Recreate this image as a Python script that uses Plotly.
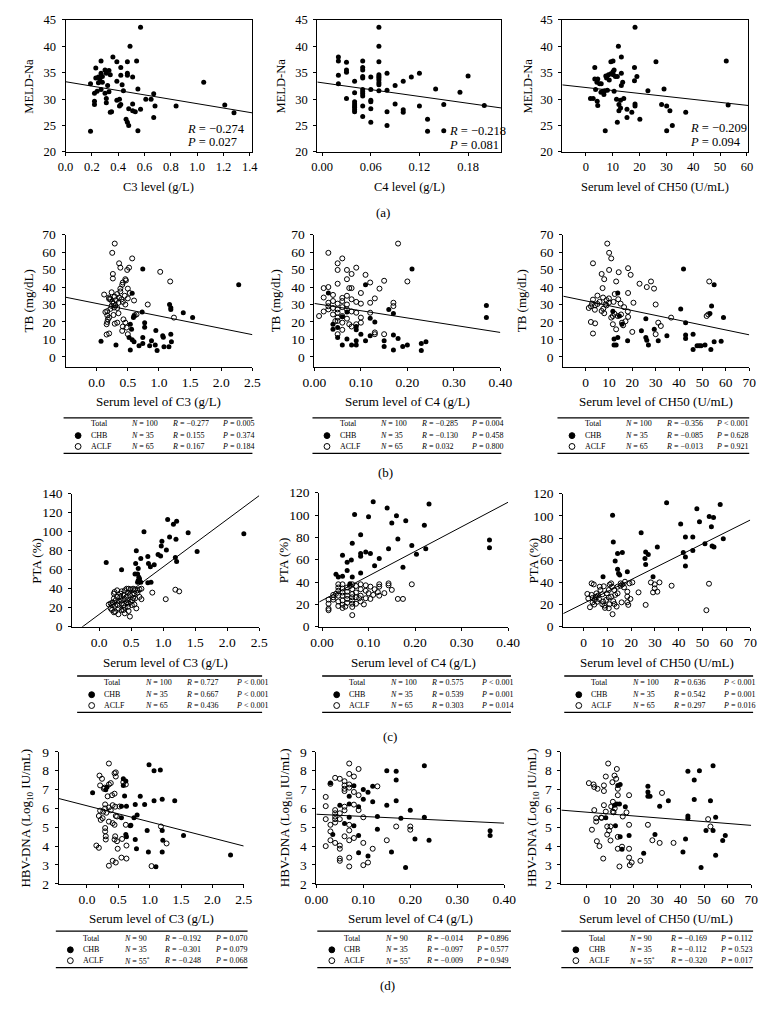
import plotly.graph_objects as go

# The page body has an 8px margin: the figure fills the rest of the 776x1020 window.
OFF = 8
W, H = 776 - 2 * OFF, 1020 - 2 * OFF
SERIF = "Liberation Serif, Times New Roman, serif"

# ---------------- data ----------------
# (a) MELD-Na vs complement levels (ACLF patients)
a_c3 = [0.19,0.57,0.49,0.36,0.27,0.39,0.47,0.54,0.23,0.42,0.30,0.33,0.31,0.34,0.27,0.28,0.25,0.23,0.26,0.42,
        0.47,0.47,0.51,0.25,0.28,0.39,0.43,0.32,0.55,0.44,0.24,0.27,0.30,0.33,0.22,0.22,0.22,0.31,0.31,0.39,
        0.41,0.42,0.41,0.51,0.61,0.65,0.67,0.68,0.35,0.34,0.48,0.51,0.53,0.57,0.46,0.47,0.48,0.67,0.19,0.55,
        0.84,1.05,1.21,1.28]
a_c3_meld = [32.9,43.6,40.0,38.0,37.2,37.1,37.1,37.2,35.9,36.0,35.5,35.4,34.9,34.6,34.9,34.3,34.2,34.0,33.8,34.5,
             34.9,34.5,34.2,33.1,33.2,33.4,32.7,32.6,31.9,31.6,31.5,31.8,31.1,31.4,31.1,29.6,29.0,30.1,29.3,29.8,
             30.0,29.0,28.7,29.1,30.0,30.0,31.0,28.7,27.6,27.5,28.2,27.8,27.6,28.1,26.2,25.6,25.0,26.5,23.9,24.0,
             28.7,33.2,28.9,27.4]
a_c4 = [0.02,0.02,0.02,0.02,0.03,0.03,0.03,0.03,
        0.04,0.04,0.04,0.04,0.04,0.04,0.04,0.04,
        0.05,0.05,0.05,0.05,0.05,0.05,0.05,0.05,0.05,0.05,0.05,
        0.06,0.06,0.06,0.06,0.06,0.06,
        0.07,0.07,0.07,0.07,0.07,0.07,0.07,0.07,0.07,0.07,
        0.08,0.08,0.08,0.08,0.09,0.09,0.10,0.10,0.10,0.11,0.12,0.12,0.13,0.13,0.14,0.15,0.15,0.17,0.18,0.20]
a_c4_meld = [38.0,37.2,34.5,32.9,37.0,35.5,35.1,30.1,
             33.4,31.2,29.5,29.1,28.7,28.4,28.0,27.6,
             37.2,36.0,35.5,34.3,34.0,31.8,31.4,31.0,30.6,28.7,26.7,
             34.2,31.8,29.8,29.5,28.2,25.6,
             43.6,40.0,37.1,34.6,34.3,34.0,33.6,33.1,32.7,31.6,
             34.9,31.7,27.6,25.0,32.6,29.1,33.4,28.0,27.5,34.2,34.9,28.7,26.2,23.9,31.9,29.0,24.0,31.3,34.4,28.8]
a_ch50 = [1.7,2.7,3.3,3.3,3.6,4.2,4.4,4.4,5.1,4.1,5.7,5.6,6.3,7.0,6.7,7.2,7.4,7.7,8.0,8.4,
          8.7,9.3,9.3,10.1,10.1,10.2,10.5,10.5,11.0,11.7,11.4,11.7,12.1,12.3,12.3,12.9,12.9,13.2,13.2,13.2,
          13.7,14.1,15.3,15.3,17.1,18.1,18.1,18.3,18.3,18.3,19.0,20.1,23.1,26.1,28.2,29.1,30.1,31.3,30.1,32.2,
          37.2,52.3,53.0]
a_ch50_meld = [30.1,30.1,33.8,36.0,31.8,29.6,28.8,33.8,32.9,33.2,32.9,31.3,31.5,31.6,30.9,24.0,34.4,34.0,31.7,34.6,
               33.6,37.1,34.8,37.2,35.2,34.6,35.5,31.5,34.3,34.3,30.0,25.6,40.0,29.0,27.8,29.8,28.3,38.0,34.9,32.6,
               33.2,30.1,28.1,26.5,27.5,36.0,33.5,29.1,28.7,43.6,34.3,26.2,31.6,37.1,29.0,31.9,28.7,27.8,24.0,25.0,
               27.5,37.2,28.9]

# (b) TB (mg/dL): (x, y) pairs, CHB = filled, ACLF = open
b_c3_chb = [(0.74,50.4),(0.57,36.4),(2.28,41.3),(0.07,8.9),(0.31,6.8),(0.54,18.7),(0.56,15.8),(0.59,22.5),(0.60,23.4),
            (0.73,25.7),(0.77,19.6),(0.77,17.0),(0.52,11.1),(0.57,9.8),(0.60,8.7),(0.54,4.0),(0.74,11.1),(0.74,7.7),
            (0.68,6.4),(0.88,9.2),(0.85,6.4),(0.95,15.1),(0.94,6.8),(0.97,3.6),(1.06,12.1),(1.07,11.3),(1.08,5.8),
            (1.17,30.0),(1.19,28.1),(1.19,27.2),(1.19,13.0),(1.20,8.7),(1.16,5.8),(1.39,25.3),(1.54,22.5)]
b_c3_aclf = [(0.29,64.9),(0.25,59.6),(0.26,47.5),(0.26,44.9),(0.36,53.6),(0.38,51.1),(0.49,49.8),(0.52,51.1),(0.57,56.4),
             (0.46,44.5),(0.42,42.6),(0.41,41.3),(0.38,39.1),(0.47,43.8),(0.50,39.1),(0.53,36.6),(0.12,35.7),(1.02,48.7),
             (1.18,43.2),(0.60,32.3),(0.20,34.0),(0.22,33.0),(0.29,34.5),(0.31,32.5),(0.25,31.5),(0.20,33.2),(0.33,36.0),
             (0.36,34.0),(0.40,33.0),(0.45,35.0),(0.27,30.5),(0.30,29.5),(0.35,31.0),(0.42,31.5),(0.50,33.5),(0.24,37.0),
             (0.38,37.5),(0.46,30.0),(0.14,25.7),(0.17,26.2),(0.17,23.8),(0.20,22.5),(0.18,21.5),(0.17,20.0),(0.16,18.7),
             (0.20,13.4),(0.16,12.8),(0.22,27.5),(0.28,28.3),(0.24,29.2),(0.33,28.0),(0.29,19.0),(0.33,19.6),(0.43,21.5),
             (0.46,19.6),(0.42,17.4),(0.41,14.9),(0.48,16.8),(0.50,13.0),(0.61,23.8),(0.64,24.3),(0.82,30.0),(1.24,22.5),
             (0.35,25.0),(0.27,24.0)]
b_c4_chb = [(0.03,36.6),(0.11,41.3),(0.21,50.4),(0.04,15.8),(0.04,18.7),(0.05,16.8),(0.05,11.1),(0.06,23.0),(0.06,6.8),
            (0.07,10.2),(0.07,25.7),(0.08,6.8),(0.09,17.4),(0.09,15.5),(0.09,9.2),(0.09,6.8),(0.10,13.0),(0.11,9.2),
            (0.12,22.1),(0.12,12.1),(0.13,20.0),(0.15,9.2),(0.15,6.0),(0.16,27.2),(0.17,24.9),(0.17,12.5),(0.17,4.0),
            (0.18,10.6),(0.19,6.0),(0.20,6.8),(0.23,7.7),(0.23,3.6),(0.24,8.7),(0.37,29.4),(0.37,22.5)]
b_c4_aclf = [(0.03,59.6),(0.05,53.6),(0.05,49.8),(0.06,56.4),(0.07,49.8),(0.07,44.5),(0.08,47.5),(0.09,51.1),(0.05,41.9),
             (0.02,39.4),(0.03,40.0),(0.075,39.4),(0.08,39.4),(0.10,36.6),(0.11,47.0),(0.12,42.6),(0.14,39.1),(0.15,43.6),
             (0.18,64.9),(0.20,43.2),(0.02,34.0),(0.04,35.5),(0.04,32.0),(0.06,33.8),(0.03,31.0),(0.05,30.5),(0.06,32.0),
             (0.07,30.0),(0.08,33.0),(0.09,31.5),(0.12,31.0),(0.17,31.0),(0.13,33.5),(0.10,30.5),(0.01,23.4),(0.03,29.0),
             (0.03,27.2),(0.04,24.3),(0.045,20.5),(0.05,27.2),(0.05,25.3),(0.05,22.5),(0.05,20.6),(0.05,13.0),(0.06,23.4),
             (0.06,19.6),(0.06,15.5),(0.07,27.2),(0.07,21.9),(0.075,18.7),(0.08,17.4),(0.09,25.3),(0.09,18.7),(0.10,22.5),
             (0.10,19.6),(0.12,25.3),(0.13,14.0),(0.13,13.0),(0.15,13.0),(0.17,29.1),(0.04,28.0),(0.06,28.5),(0.08,26.0),
             (0.02,26.0),(0.07,35.0)]
b_ch50_chb = [(41.9,50.4),(13.8,36.6),(55.0,41.3),(12.2,10.2),(12.2,6.8),(13.1,6.8),(13.8,11.1),(18.0,9.2),(14.5,23.4),
              (15.6,18.7),(11.7,26.2),(23.9,14.9),(25.8,21.9),(25.8,11.1),(26.2,9.6),(26.9,6.8),(29.4,15.8),(31.1,9.2),
              (34.8,12.1),(40.7,27.5),(42.8,19.6),(42.8,12.5),(42.8,10.6),(46.0,13.0),(46.0,4.2),(47.7,6.4),(48.6,6.4),
              (49.4,6.4),(51.1,6.8),(53.9,29.1),(53.6,4.2),(55.0,8.7),(58.0,8.9),(59.0,22.5),(53.2,24.9)]
b_ch50_aclf = [(3.2,53.6),(6.9,47.5),(8.0,44.5),(9.3,64.9),(10.1,59.6),(11.0,56.4),(10.1,49.8),(13.1,43.2),(14.2,48.5),
               (7.3,39.4),(18.2,50.8),(19.3,47.0),(23.1,41.9),(26.2,40.0),(28.0,43.2),(29.3,39.1),(52.9,43.2),(18.2,36.6),
               (3.2,32.8),(5.1,35.1),(7.5,34.0),(10.0,33.5),(9.0,32.5),(12.5,36.0),(14.0,33.0),(1.4,28.0),(2.3,29.0),
               (2.8,30.5),(4.1,29.5),(5.1,30.3),(2.3,20.0),(4.1,19.2),(3.2,13.4),(6.9,26.3),(7.6,27.6),(9.0,29.5),
               (10.0,31.0),(11.0,22.5),(11.7,23.4),(12.4,24.7),(11.7,18.7),(13.1,15.8),(13.8,23.4),(15.2,24.3),(15.6,19.6),
               (16.1,18.1),(17.1,20.4),(18.1,26.0),(18.2,22.9),(20.0,14.3),(30.0,13.0),(31.1,19.6),(32.2,17.7),(30.0,30.0),
               (36.6,22.5),(51.8,23.4),(52.5,24.3),(6.0,31.5),(8.5,30.0),(12.0,31.5),(15.0,30.5),(4.0,27.0),(16.5,28.5),
               (20.5,31.0),(8.0,25.0)]

# (c) PTA (%)
c_c3_chb = [(1.07,113),(1.16,108),(1.21,111),(0.70,100),(1.39,99),(2.26,98),(0.58,80),(0.98,90),(1.10,94.5),(1.20,92),
            (0.97,85),(0.92,76),(0.96,74.5),(1.05,80.7),(1.19,72.8),(1.21,68.6),(1.53,79.3),(0.11,67.6),(0.35,60),
            (0.57,66.6),(0.61,61.4),(0.65,71.7),(0.76,73.8),(0.77,66.6),(0.80,63.1),(0.86,65.2),(0.56,55.5),(0.60,55.5),
            (0.62,52),(0.63,50.3),(0.61,48.6),(0.65,46.9),(0.60,46.9),(0.76,46.2),(0.81,46.9)]
c_c3_aclf = [(0.18,24.5),(0.21,25.5),(0.24,36.6),(0.28,38.3),(0.29,22.8),(0.33,31.4),(0.35,27.9),(0.38,22.8),(0.40,38.3),
             (0.43,40.0),(0.46,40.0),(0.49,39.3),(0.53,40.0),(0.56,39.3),(0.60,38.3),(0.63,39.3),(0.66,40.0),(0.20,17.6),
             (0.25,15.9),(0.30,19.3),(0.35,17.6),(0.40,20.0),(0.45,21.0),(0.51,22.8),(0.55,23.4),(0.58,19.3),(0.23,29.7),
             (0.26,27.9),(0.33,34.8),(0.38,33.1),(0.43,31.4),(0.48,33.1),(0.53,30.3),(0.49,26.2),(0.43,25.5),(0.38,17.6),
             (0.30,13.1),(0.25,22.1),(0.20,22.8),(0.15,23.4),(0.46,16.6),(0.52,27.9),(0.56,29.7),(0.35,24.5),(0.28,31.4),
             (0.31,26.9),(0.40,29.0),(0.45,35.9),(0.35,37.2),(0.55,34.8),(0.48,10.7),(0.83,35.9),(1.04,29.0),(1.19,39.0),
             (1.25,37.2),(0.63,31.4),(0.66,29.0),(0.18,19.3),(0.23,15.2),(0.40,14.1),(0.52,33.8),(0.44,27.9),(0.23,34.8),
             (0.46,24.5),(0.60,36.0)]
c_c4_chb = [(0.07,100.6),(0.10,98.6),(0.11,112),(0.14,106.3),(0.16,99.4),(0.15,92.9),(0.18,94.9),(0.22,90.9),(0.23,110),
            (0.03,47),(0.035,44.6),(0.044,64),(0.054,57.7),(0.054,50.4),(0.044,45.2),(0.065,74.8),(0.063,59.7),(0.065,44.6),
            (0.083,82.3),(0.083,63.2),(0.083,65.5),(0.083,48.1),(0.094,67),(0.104,65.5),(0.113,54.5),(0.123,61.2),
            (0.143,69.9),(0.163,78.6),(0.174,53.3),(0.193,72.8),(0.203,64.9),(0.223,69.9),(0.36,77.7),(0.36,70.7),(0.06,38.5)]
c_c4_aclf = [(0.014,24.3),(0.014,20.6),(0.014,16.2),(0.014,14.8),(0.024,26.4),(0.024,24.3),(0.035,38),(0.035,35.1),
             (0.035,32.2),(0.035,27.8),(0.035,22.6),(0.035,18.6),(0.044,38),(0.044,34.2),(0.044,30.7),(0.044,27.8),
             (0.044,23.5),(0.044,19.7),(0.044,16.8),(0.054,35.1),(0.054,31.3),(0.054,27.8),(0.054,24.9),(0.054,21.4),
             (0.065,38),(0.065,33.6),(0.065,29.3),(0.065,26.4),(0.065,23.5),(0.065,20.6),(0.065,17.7),(0.065,10.4),
             (0.073,36.5),(0.073,30.7),(0.073,26.4),(0.073,20.6),(0.083,38),(0.083,33.6),(0.083,27.8),(0.083,22.6),
             (0.094,37.1),(0.094,32.2),(0.094,25.5),(0.104,35.9),(0.104,24.9),(0.113,33.6),(0.123,35.9),(0.123,38),
             (0.123,27.8),(0.134,30.1),(0.143,38.8),(0.143,37.1),(0.163,24.9),(0.174,24.9),(0.193,38),(0.024,28.5),
             (0.03,29.5),(0.12,31.0),(0.11,28.5),(0.06,36.5),(0.09,20.0),(0.05,18.0),(0.08,25.5),(0.10,30.0),(0.15,33.0)]
c_ch50_chb = [(12.2,100.6),(34.9,111.8),(47.6,106.5),(48.7,94.7),(52.8,99.4),(54.6,98.5),(40.8,92.6),(53.7,90.3),
              (57.4,110.3),(12.5,76.4),(14.3,66.0),(16.3,66.9),(13.3,59.4),(14.3,51.9),(14.7,48.1),(15.2,46.6),
              (18.4,49.6),(8.2,45.1),(24.2,84.8),(26.1,67.5),(27.2,65.1),(26.1,56.1),(25.8,61.5),(29.2,45.1),(31.0,71.9),
              (41.9,66.9),(42.8,80.9),(42.8,63.0),(42.8,54.9),(45.9,80.9),(45.9,68.7),(51.0,74.9),(54.0,72.8),(54.8,71.9),
              (58.7,79.4)]
c_ch50_aclf = [(1.6,29.6),(2.7,17.6),(3.4,39.1),(4.3,38.2),(3.8,22.0),(4.7,24.5),(3.8,26.0),(5.2,27.0),(5.7,22.5),
               (6.1,28.1),(6.8,36.1),(7.9,20.3),(8.2,22.7),(7.9,29.3),(8.8,19.1),(9.5,24.2),(10.6,26.3),(10.9,20.3),
               (10.6,16.7),(11.6,39.1),(12.0,36.1),(12.2,11.3),(12.9,33.1),(13.3,28.7),(13.9,18.2),(14.3,30.1),(15.6,39.1),
               (15.6,37.0),(16.3,38.2),(17.4,40.6),(18.4,31.6),(18.4,27.2),(18.4,22.1),(18.8,19.7),(19.3,39.1),(19.7,25.1),
               (23.1,31.0),(26.1,19.7),(28.3,40.0),(29.9,38.2),(29.9,34.6),(29.2,31.0),(31.9,40.0),(31.0,31.6),(37.0,37.0),
               (52.7,38.8),(51.6,14.9),(11.6,27.2),(9.8,30.1),(7.1,33.1),(5.4,30.1),(3.4,28.7),(10.6,33.1),(14.3,36.1),
               (2.0,25.5),(6.5,25.0),(9.0,17.0),(12.5,23.0),(16.0,22.0),(20.5,40.0),(13.0,20.5),(4.5,20.0),(11.0,38.0),
               (8.5,36.5),(17.0,35.5)]

# (d) HBV-DNA (log10 IU/mL)
d_c3_chb = [(0.09,6.83),(0.32,7.13),(0.99,8.31),(1.07,8.0),(1.17,8.03),(0.60,6.66),(0.85,6.64),(0.55,6.12),(0.63,6.12),
            (0.77,6.21),(0.92,6.21),(1.07,6.40),(1.20,6.49),(1.40,6.40),(0.55,5.51),(0.75,5.51),(0.80,5.65),(0.69,5.08),
            (0.62,4.61),(0.63,4.49),(0.96,4.83),(1.20,4.83),(1.54,4.56),(1.21,4.31),(0.77,4.35),(0.79,3.86),(0.98,3.69),
            (1.20,3.69),(1.10,2.90),(2.29,3.53),(0.58,7.57),(0.58,7.22),(0.30,6.99),(0.62,7.45),(0.70,5.10)]
d_c3_aclf = [(0.35,8.38),(0.44,7.86),(0.46,7.69),(0.20,7.74),(0.24,7.57),(0.21,7.22),(0.27,7.04),(0.35,7.27),(0.38,7.34),
             (0.44,6.78),(0.40,6.70),(0.33,6.64),(0.29,6.21),(0.41,6.17),(0.45,6.09),(0.35,6.05),(0.29,6.0),(0.21,5.88),
             (0.26,5.83),(0.19,5.6),(0.25,5.48),(0.22,5.39),(0.31,5.77),(0.35,5.3),(0.29,4.96),(0.29,4.78),(0.30,4.52),
             (0.30,4.35),(0.15,4.03),(0.19,3.91),(0.41,5.22),(0.46,5.6),(0.44,5.13),(0.45,4.52),(0.44,4.35),(0.49,3.86),
             (0.48,4.26),(0.56,4.38),(0.48,5.57),(0.62,5.13),(0.63,4.03),(0.55,3.39),(0.63,3.34),(0.41,3.22),(0.46,3.13),
             (0.35,2.96),(1.03,2.94),(1.18,5.04),(1.27,4.14),(0.58,7.39),(0.62,7.27),(0.46,7.91),(0.28,7.1),(0.52,6.1),
             (0.38,5.9)]
d_c4_chb = [(0.035,4.61),(0.03,7.34),(0.05,6.17),(0.07,6.64),(0.07,6.23),(0.07,5.53),(0.09,6.09),(0.09,4.56),(0.09,3.65),
            (0.08,5.08),(0.10,6.49),(0.11,6.85),(0.12,7.17),(0.12,6.35),(0.11,3.48),(0.13,5.57),(0.15,8.0),(0.15,6.17),
            (0.16,3.69),(0.17,7.97),(0.17,7.51),(0.17,6.40),(0.18,5.48),(0.19,2.87),(0.21,4.38),(0.23,8.26),(0.23,5.53),
            (0.24,4.31),(0.37,4.82),(0.37,4.56),(0.06,5.2),(0.10,7.0),(0.13,4.9),(0.08,7.2),(0.20,5.9)]
d_c4_aclf = [(0.02,6.61),(0.02,6.12),(0.02,5.43),(0.02,4.0),(0.03,7.3),(0.03,5.13),(0.03,4.78),(0.03,4.31),(0.04,7.62),
             (0.04,5.91),(0.04,5.74),(0.04,5.57),(0.04,5.43),(0.04,5.25),(0.04,4.17),(0.05,7.57),(0.05,5.74),(0.05,5.43),
             (0.05,3.86),(0.05,4.03),(0.05,3.34),(0.05,3.22),(0.06,7.44),(0.06,7.22),(0.06,7.04),(0.06,6.92),(0.06,6.09),
             (0.06,4.52),(0.07,8.38),(0.07,7.83),(0.07,7.27),(0.07,7.1),(0.07,5.13),(0.07,4.83),(0.07,4.31),(0.07,3.39),
             (0.07,2.92),(0.08,7.69),(0.08,6.87),(0.08,4.43),(0.09,8.09),(0.09,6.7),(0.09,5.91),(0.10,5.53),(0.10,4.17),
             (0.10,2.99),(0.11,3.13),(0.12,3.86),(0.13,7.17),(0.15,4.31),(0.17,5.04),(0.20,5.04),(0.20,4.87),(0.06,5.9),
             (0.08,6.2)]
d_ch50_chb = [(8.2,5.51),(12.3,5.08),(12.9,6.23),(14.0,6.23),(11.9,6.17),(13.3,7.22),(14.3,7.27),(14.3,4.49),(15.1,3.83),
              (16.5,6.09),(18.1,4.56),(24.3,3.62),(26.1,7.17),(26.1,6.87),(26.1,6.64),(27.0,6.64),(29.1,4.61),(31.1,6.12),
              (34.8,6.40),(41.0,3.69),(42.1,4.38),(43.1,7.97),(43.1,5.6),(43.1,5.48),(45.8,7.51),(45.8,6.47),(48.0,8.0),
              (48.7,2.87),(50.8,4.83),(52.7,6.40),(53.8,8.26),(53.8,4.83),(54.9,5.53),(54.9,3.51),(57.9,4.30),(59.0,4.56)]
d_ch50_aclf = [(1.0,7.34),(2.3,4.87),(3.0,7.27),(3.3,7.13),(4.7,7.04),(3.3,5.91),(4.1,5.48),(4.1,5.3),(4.4,4.26),(5.5,4.0),
               (6.2,5.51),(7.1,3.34),(7.4,7.22),(7.4,6.92),(7.4,6.17),(8.2,7.69),(8.2,5.83),(8.8,4.61),(9.6,4.82),
               (10.2,5.04),(10.2,4.3),(9.2,8.38),(11.0,7.39),(11.2,6.35),(11.2,5.83),(11.9,7.74),(12.6,7.57),(12.9,8.09),
               (13.3,6.7),(13.3,7.04),(11.5,5.79),(13.3,3.86),(13.3,4.49),(14.0,2.92),(15.4,5.57),(15.1,3.97),(17.0,5.79),
               (18.1,6.7),(18.1,5.13),(18.1,3.86),(18.1,3.39),(18.4,2.99),(19.2,3.13),(22.9,3.22),(26.1,5.13),(28.0,4.31),
               (31.1,4.17),(32.1,6.82),(37.0,4.17),(51.7,5.43),(52.7,5.04),(8.8,5.04),(10.5,6.1),(12.0,6.0),(6.5,5.5)]

# regression lines (intercept, slope)
fit_a = [(33.3, -4.16), (33.1, -21.6), (32.2, -0.0563)]
fit_b = [(30.6, -7.15), (30.6, -41.5), (32.1, -0.278)]
fit_c = [(13.0, 50.0), (23.5, 220.0), (21.0, 1.075)]
fit_d = [(6.14, -0.854), (5.69, -1.18), (5.80, -0.010)]

# correlation text for (a)
a_R = ["−0.274", "−0.218", "−0.209"]
a_P = ["0.027", "0.081", "0.094"]

# tables for (b)-(d)
group_labels = ["Total", "CHB", "ACLF"]
N_bc = ["100", "35", "65"]
N_d = ["90", "35", "55<sup>*</sup>"]
b_R = [["−0.277", "0.155", "0.167"], ["−0.285", "−0.130", "0.032"], ["−0.356", "−0.085", "−0.013"]]
b_P = [["= 0.005", "= 0.374", "= 0.184"], ["= 0.004", "= 0.458", "= 0.800"], ["< 0.001", "= 0.628", "= 0.921"]]
c_R = [["0.727", "0.667", "0.436"], ["0.575", "0.539", "0.303"], ["0.636", "0.542", "0.297"]]
c_P = [["< 0.001", "< 0.001", "< 0.001"], ["< 0.001", "= 0.001", "= 0.014"], ["< 0.001", "= 0.001", "= 0.016"]]
d_R = [["−0.192", "−0.301", "−0.248"], ["−0.014", "−0.097", "−0.009"], ["−0.169", "−0.112", "−0.320"]]
d_P = [["= 0.070", "= 0.079", "= 0.068"], ["= 0.896", "= 0.577", "= 0.949"], ["= 0.112", "= 0.523", "= 0.017"]]

# tick values
ticks_a_c3 = [0.0, 0.2, 0.4, 0.6, 0.8, 1.0, 1.2, 1.4]
ticks_a_c4 = [0.0, 0.06, 0.12, 0.18]
ticks_a_ch = [0, 10, 20, 30, 40, 50, 60]
ticks_c3 = [0.0, 0.5, 1.0, 1.5, 2.0, 2.5]
ticks_c4 = [0.0, 0.1, 0.2, 0.3, 0.4]
ticks_ch = [0, 10, 20, 30, 40, 50, 60, 70]

# ---------------- layout helpers ----------------
def fx(px):
    return (px - OFF) / W

def fy(py):
    return 1 - (py - OFF) / H

def xt(vals, fmt):
    return dict(tickmode="array", tickvals=vals, ticktext=[format(v, fmt) for v in vals])

def yt(t0, dt):
    return dict(tickmode="linear", tick0=t0, dtick=dt)

panels = [
    # row (a)
    dict(box=(55, 248, 13, 147), xr=[0, 1.42], yr=[20, 45], xt=xt(ticks_a_c3, ".1f"), yt=yt(20, 5),
         boxed=True, pts=(a_c3, a_c3_meld), fit=fit_a[0],
         xtitle="C3 level (g/L)", ytitle="MELD-Na", ytx=17, xty=183, R=a_R[0], P=a_P[0], rp=(178, 124, 137)),
    dict(box=(315, 505, 13, 147), xr=[-0.006, 0.221], yr=[20, 45], xt=xt(ticks_a_c4, ".2f"), yt=yt(20, 5),
         boxed=True, pts=(a_c4, a_c4_meld), fit=fit_a[1],
         xtitle="C4 level (g/L)", ytitle="MELD-Na", ytx=277, xty=183, R=a_R[1], P=a_P[1], rp=(449, 126, 140)),
    dict(box=(568, 760, 13, 147), xr=[-8.8, 60.5], yr=[20, 45], xt=xt(ticks_a_ch, "d"), yt=yt(20, 5),
         boxed=True, pts=(a_ch50, a_ch50_meld), fit=fit_a[2],
         xtitle="Serum level of CH50 (U/mL)", ytitle="MELD-Na", ytx=532, xty=183, R=a_R[2], P=a_P[2], rp=(698, 123, 137)),
    # row (b)
    dict(box=(55, 248, 231, 365), xr=[-0.5, 2.5], yr=[-5.6, 70], xt=xt(ticks_c3, ".1f"), yt=yt(0, 10),
         chb=b_c3_chb, aclf=b_c3_aclf, fit=fit_b[0], xtitle="Serum level of C3 (g/L)", ytitle="TB (mg/dL)",
         ytx=17, xty=400, table=(53, 248), trow=(417, 423, 435, 446, 453), N=N_bc, R=b_R[0], P=b_P[0]),
    dict(box=(312, 504, 231, 365), xr=[0, 0.40], yr=[-5.6, 70], xt=xt(ticks_c4, ".2f"), yt=yt(0, 10),
         chb=b_c4_chb, aclf=b_c4_aclf, fit=fit_b[1], xtitle="Serum level of C4 (g/L)", ytitle="TB (mg/dL)",
         ytx=272, xty=400, table=(310, 505), trow=(417, 423, 435, 446, 453), N=N_bc, R=b_R[1], P=b_P[1]),
    dict(box=(569, 761, 231, 365), xr=[-9.5, 70], yr=[-5.6, 70], xt=xt(ticks_ch, "d"), yt=yt(0, 10),
         chb=b_ch50_chb, aclf=b_ch50_aclf, fit=fit_b[2], xtitle="Serum level of CH50 (U/mL)", ytitle="TB (mg/dL)",
         ytx=526, xty=400, table=(563, 761), trow=(417, 423, 435, 446, 453), N=N_bc, R=b_R[2], P=b_P[2]),
    # row (c)
    dict(box=(62, 255, 494, 629), xr=[-0.42, 2.5], yr=[0, 140], xt=xt(ticks_c3, ".1f"), yt=yt(0, 20),
         chb=c_c3_chb, aclf=c_c3_aclf, fit=fit_c[0], xtitle="Serum level of C3 (g/L)", ytitle="PTA (%)",
         ytx=25, xty=665, table=(67, 258), trow=(679, 686, 698, 709, 716), N=N_bc, R=c_R[0], P=c_P[0]),
    dict(box=(317, 512, 493, 629), xr=[-0.006, 0.40], yr=[0, 120], xt=xt(ticks_c4, ".2f"), yt=yt(0, 20),
         chb=c_c4_chb, aclf=c_c4_aclf, fit=fit_c[1], xtitle="Serum level of C4 (g/L)", ytitle="PTA (%)",
         ytx=280, xty=665, table=(320, 515), trow=(679, 686, 698, 709, 716), N=N_bc, R=c_R[1], P=c_P[1]),
    dict(box=(569, 762, 494, 629), xr=[-8.5, 70], yr=[0, 120], xt=xt(ticks_ch, "d"), yt=yt(0, 20),
         chb=c_ch50_chb, aclf=c_ch50_aclf, fit=fit_c[2], xtitle="Serum level of CH50 (U/mL)", ytitle="PTA (%)",
         ytx=538, xty=665, table=(570, 765), trow=(679, 686, 698, 709, 716), N=N_bc, R=c_R[2], P=c_P[2]),
    # row (d)
    dict(box=(48, 239, 756, 890), xr=[-0.45, 2.5], yr=[2, 9], xt=xt(ticks_c3, ".1f"), yt=yt(2, 1),
         chb=d_c3_chb, aclf=d_c3_aclf, fit=fit_d[0], xtitle="Serum level of C3 (g/L)",
         ytitle="HBV-DNA (Log<sub>10</sub> IU/mL)", ytx=15, xty=925, table=(45, 243),
         trow=(938, 945, 957, 968, 975), N=N_d, R=d_R[0], P=d_P[0]),
    dict(box=(314, 508, 756, 890), xr=[0, 0.40], yr=[2, 9], xt=xt(ticks_c4, ".2f"), yt=yt(2, 1),
         chb=d_c4_chb, aclf=d_c4_aclf, fit=fit_d[1], xtitle="Serum level of C4 (g/L)",
         ytitle="HBV-DNA (Log<sub>10</sub> IU/mL)", ytx=283, xty=925, table=(315, 515),
         trow=(938, 945, 957, 968, 975), N=N_d, R=d_R[1], P=d_P[1]),
    dict(box=(567, 763, 756, 890), xr=[-10.7, 70], yr=[2, 9], xt=xt(ticks_ch, "d"), yt=yt(2, 1),
         chb=d_ch50_chb, aclf=d_ch50_aclf, fit=fit_d[2], xtitle="Serum level of CH50 (U/mL)",
         ytitle="HBV-DNA (Log<sub>10</sub> IU/mL)", ytx=538, xty=925, table=(567, 765),
         trow=(938, 945, 957, 968, 975), N=N_d, R=d_R[2], P=d_P[2]),
]

panel_letters = [("(a)", 383, 209), ("(b)", 385, 472), ("(c)", 390, 740), ("(d)", 387, 993)]

fig = go.Figure()
layout = {}
annotations = []
shapes = []

def txt(x, y, text, size, xanchor="center", angle=0):
    annotations.append(dict(x=fx(x), y=fy(y), xref="paper", yref="paper", text=text, showarrow=False,
                            xanchor=xanchor, yanchor="middle", textangle=angle,
                            font=dict(family=SERIF, size=size, color="black")))

for i, p in enumerate(panels, start=1):
    l, r, t, b = p["box"]
    xa, ya = f"x{i}", f"y{i}"
    row_a = i <= 3
    tick_size = 12.5 if row_a else 13.5
    title_size = 12.5 if row_a else 13
    common = dict(showline=True, linecolor="black", linewidth=1, mirror=p.get("boxed", False),
                  ticks="outside", ticklen=3, tickwidth=1, tickcolor="black", showgrid=False,
                  zeroline=False, tickfont=dict(family=SERIF, size=tick_size, color="black"))
    layout[f"xaxis{i}"] = dict(domain=[fx(l), fx(r)], range=p["xr"], anchor=ya, ticklabelstandoff=0,
                               **p["xt"], **common)
    layout[f"yaxis{i}"] = dict(domain=[fy(b), fy(t)], range=p["yr"], anchor=xa, ticklabelstandoff=3,
                               **p["yt"], **common)

    if "pts" in p:
        fig.add_trace(go.Scatter(x=p["pts"][0], y=p["pts"][1], mode="markers", xaxis=xa, yaxis=ya,
                                 marker=dict(size=5, color="black"), showlegend=False))
    else:
        ax, ay = zip(*p["aclf"])
        fig.add_trace(go.Scatter(x=ax, y=ay, mode="markers", xaxis=xa, yaxis=ya,
                                 marker=dict(size=5, color="black", symbol="circle-open", line=dict(width=1)),
                                 showlegend=False))
        cx, cy = zip(*p["chb"])
        fig.add_trace(go.Scatter(x=cx, y=cy, mode="markers", xaxis=xa, yaxis=ya,
                                 marker=dict(size=5, color="black"), showlegend=False))
    b0, b1 = p["fit"]
    x0, x1 = p["xr"]
    fig.add_trace(go.Scatter(x=[x0, x1], y=[b0 + b1 * x0, b0 + b1 * x1], mode="lines", xaxis=xa, yaxis=ya,
                             line=dict(color="black", width=1), showlegend=False, hoverinfo="skip"))

    # axis titles
    txt((l + r) / 2, p["xty"], p["xtitle"], title_size)
    txt(p["ytx"], (t + b) / 2, p["ytitle"], title_size, angle=-90)

    if row_a:
        rx, ry, py = p["rp"]
        txt(rx, ry, f"<i>R</i> = {p['R']}", 12.5, xanchor="left")
        txt(rx, py, f"<i>P</i> = {p['P']}", 12.5, xanchor="left")
    else:
        tl, tr = p["table"]
        top, r1, r2, r3, bot = p["trow"]
        for yy in (top, bot):
            shapes.append(dict(type="line", xref="paper", yref="paper", x0=fx(tl), x1=fx(tr), y0=fy(yy), y1=fy(yy),
                               line=dict(color="black", width=1.3)))
        for k, yy in enumerate((r1, r2, r3)):
            if k > 0:
                cxp = tl + 15
                shapes.append(dict(type="circle", xref="paper", yref="paper",
                                   x0=fx(cxp - 3), x1=fx(cxp + 3), y0=fy(yy + 3), y1=fy(yy - 3),
                                   fillcolor="black" if k == 1 else "white", line=dict(color="black", width=1)))
            txt(tl + 26, yy, group_labels[k], 8, xanchor="left")
            txt(tl + 68, yy, f"<i>N</i> = {p['N'][k]}", 8, xanchor="left")
            txt(tl + 110, yy, f"<i>R</i> = {p['R'][k]}", 8, xanchor="left")
            txt(tl + 162, yy, f"<i>P</i> {p['P'][k]}", 8, xanchor="left")

for lab, x, y in panel_letters:
    txt(x, y, lab, 13)

fig.update_layout(width=W, height=H, margin=dict(l=0, r=0, t=0, b=0), paper_bgcolor="white",
                  plot_bgcolor="white", annotations=annotations, shapes=shapes, **layout)

fig.write_html("out.html")
